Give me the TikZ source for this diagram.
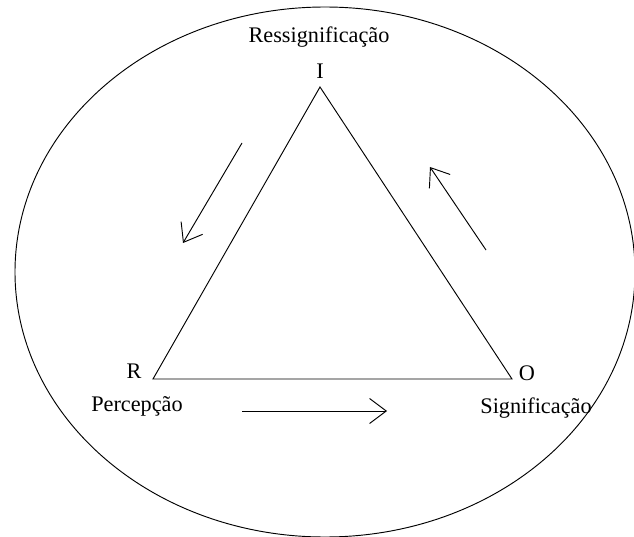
\documentclass[tikz,border=0pt]{standalone}
\usepackage{fontspec}
\setmainfont{Liberation Serif}
\usepackage{tikz}
\usetikzlibrary{arrows.meta,calc}
\tikzset{
  >={Straight Barb[length=5mm,width=7.5mm]},
  lbl/.style={font=\fontsize{19}{22}\selectfont, inner sep=0pt},
}

\begin{document}
\begin{tikzpicture}[
x=0.03cm, y=-0.03cm,
line width=0.8pt
]
\useasboundingbox (0,0) rectangle (634,537);
\clip (0,0) rectangle (634,537);

% outer ellipse
\draw (325,272) ellipse [x radius=310, y radius=265];

% triangle
\coordinate (vI) at (320,87);
\coordinate (vR) at (153,379);
\coordinate (vO) at (512,379);
\draw (vI) -- (vR) -- (vO) -- cycle;

% labels
\node[lbl] (ressig) at (319,37) {Ressignificação};
\node[lbl] (lI) at (320,71) {I};
\node[lbl] (lR) at (134,371) {R};
\node[lbl] (lO) at (527,373) {O};
\node[lbl] (percep) at (137,406) {Percepção};
\node[lbl] (signif) at (536,408) {Significação};

% arrows
\coordinate (aLs) at (242,143);
\coordinate (aLe) at (183,243);
\coordinate (aRs) at (486,250);
\coordinate (aRe) at (430,167);
\coordinate (aBs) at (242,411);
\coordinate (aBe) at (387,411);
\draw[->] (aLs) -- (aLe);
\draw[->] (aRs) -- (aRe);
\draw[->] (aBs) -- (aBe);
\end{tikzpicture}
\end{document}
